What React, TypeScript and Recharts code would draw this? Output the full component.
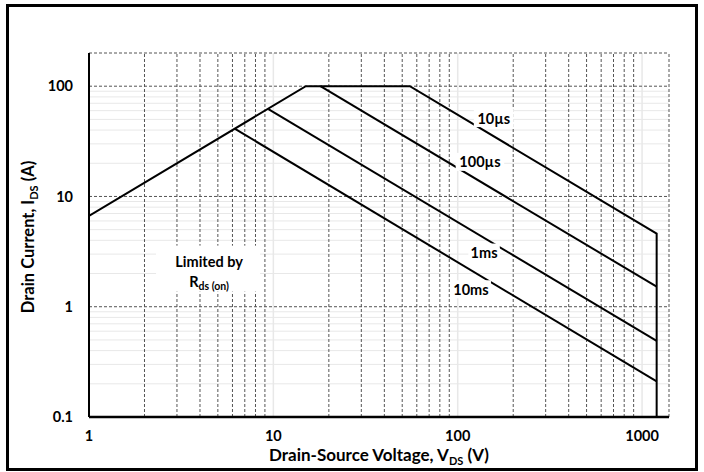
import {
  LineChart,
  Line,
  XAxis,
  YAxis,
  ReferenceLine,
  ReferenceDot,
  Label,
} from "recharts";

// safe operating area boundaries (V, A)
const soaV = [1, 15, 55, 1200, 1200];
const soaI = [6.67, 100, 100, 4.6, 0.1];
const us100V = [18, 1200];
const us100I = [100, 1.52];
const ms1V = [9.4, 1200];
const ms1I = [62, 0.49];
const ms10V = [6.2, 1200];
const ms10I = [41, 0.21];

const xTicks = [1, 10, 100, 1000];
const yTicks = [0.1, 1, 10, 100];
const xMinor = [2, 3, 4, 5, 6, 7, 8, 9, 20, 30, 40, 50, 60, 70, 80, 90, 200, 300, 400, 500, 600, 700, 800, 900];
const xMajor = [10, 100, 1000];
const xEdge = [1400];
const yMajor = [1, 10, 100, 200];
const yMinor = [0.2, 0.3, 0.4, 0.5, 0.6, 0.7, 0.8, 0.9, 2, 3, 4, 5, 6, 7, 8, 9, 20, 30, 40, 50, 60, 70, 80, 90];

const tagText = ["10µs", "100µs", "1ms", "10ms"];
const tagV = [157, 132, 139, 118];
const tagI = [51.4, 20.6, 3.1, 1.44];
const rdsV = 4.48;
const rdsI = 2.08;

const toPts = (vs: number[], is: number[]) => vs.map((v, k) => ({ v, i: is[k] }));

const FONT = "Lato, 'Open Sans', sans-serif";
const DASH = "3 2";
const DASH_COLOR = "#555";
const LIGHT = "#e8e8e8";

function Tag(props: any) {
  const { viewBox, value } = props;
  const cx = viewBox.x + viewBox.width / 2;
  const cy = viewBox.y + viewBox.height / 2;
  const w = value.length * 8.5 + 6;
  return (
    <g>
      <rect x={cx - w / 2} y={cy - 9} width={w} height={18} fill="#fff" />
      <text x={cx} y={cy} textAnchor="middle" dominantBaseline="central" fontFamily={FONT} fontWeight={700} fontSize={14.5} fill="#000">
        {value}
      </text>
    </g>
  );
}

function RdsTag(props: any) {
  const { viewBox } = props;
  const cx = viewBox.x + viewBox.width / 2;
  const cy = viewBox.y + viewBox.height / 2;
  return (
    <g fontFamily={FONT} fontWeight={700} fill="#000">
      <rect x={cx - 53} y={cy - 26} width={104} height={46} fill="#fff" />
      <text x={cx} y={cy - 10} textAnchor="middle" dominantBaseline="central" fontSize={14.5}>
        Limited by
      </text>
      <text x={cx} y={cy + 10} textAnchor="middle" dominantBaseline="central" fontSize={14.5}>
        R
        <tspan fontSize={10.5} dy={4}>ds (on)</tspan>
      </text>
    </g>
  );
}

function XTitle(props: any) {
  const { viewBox } = props;
  const cx = viewBox.x + viewBox.width / 2;
  return (
    <text x={cx} y={461} textAnchor="middle" fontFamily={FONT} fontWeight={700} fontSize={17} fill="#000">
      Drain-Source Voltage, V
      <tspan fontSize={11} dy={4}>DS</tspan>
      <tspan dy={-4}> (V)</tspan>
    </text>
  );
}

function YTitle() {
  return (
    <text x={0} y={0} transform="translate(34,237) rotate(-90)" textAnchor="middle" fontFamily={FONT} fontWeight={700} fontSize={16.5} fill="#000">
      Drain Current, I
      <tspan fontSize={11} dy={4}>DS</tspan>
      <tspan dy={-4}> (A)</tspan>
    </text>
  );
}

const lineProps = {
  type: "linear" as const,
  dataKey: "i",
  stroke: "#000",
  strokeWidth: 2,
  dot: false,
  activeDot: false,
  isAnimationActive: false,
};

export default function App() {
  return (
    <div style={{ position: "fixed", left: 0, top: 0, width: 704, height: 472, background: "#fff", overflow: "hidden" }}>
      <div
        style={{
          position: "absolute",
          left: 6,
          top: 4,
          width: 692,
          height: 467,
          border: "3px solid #000",
          boxSizing: "border-box",
        }}
      />
      <div style={{ position: "absolute", left: 0, top: 0 }}>
        <LineChart width={704} height={472} margin={{ top: 53, right: 35, bottom: 25, left: 29 }}>
          <XAxis
            type="number"
            dataKey="v"
            scale="log"
            domain={[1, 1400]}
            ticks={xTicks}
            allowDataOverflow
            height={30}
            tickLine={false}
            tickSize={0}
            tickMargin={14}
            axisLine={{ stroke: "#000", strokeWidth: 2.5 }}
            tick={{ fill: "#000", fontSize: 14.5, fontWeight: 700, fontFamily: FONT }}
          >
            <Label content={<XTitle />} />
          </XAxis>
          <YAxis
            type="number"
            scale="log"
            domain={[0.1, 200]}
            ticks={yTicks}
            allowDataOverflow
            width={60}
            tickLine={false}
            tickSize={0}
            tickMargin={16}
            axisLine={{ stroke: "#000", strokeWidth: 2 }}
            tick={{ fill: "#000", fontSize: 14.5, fontWeight: 700, fontFamily: FONT }}
          >
            <Label content={<YTitle />} />
          </YAxis>
          {yMinor.map((y) => (
            <ReferenceLine key={"ym" + y} y={y} stroke={LIGHT} strokeWidth={1} />
          ))}
          {xMajor.map((x) => (
            <ReferenceLine key={"xM" + x} x={x} stroke={LIGHT} strokeWidth={1.5} />
          ))}
          {xMinor.map((x) => (
            <ReferenceLine key={"xm" + x} x={x} stroke={DASH_COLOR} strokeDasharray={DASH} strokeWidth={1} />
          ))}
          {xEdge.map((x) => (
            <ReferenceLine key={"xe" + x} x={x} stroke={DASH_COLOR} strokeDasharray={DASH} strokeWidth={1} />
          ))}
          {yMajor.map((y) => (
            <ReferenceLine key={"yM" + y} y={y} stroke={DASH_COLOR} strokeDasharray={DASH} strokeWidth={1} />
          ))}
          {tagText.map((t, k) => (
            <ReferenceDot key={t} x={tagV[k]} y={tagI[k]} r={1} fill="none" stroke="none" label={<Tag value={t} />} />
          ))}
          <ReferenceDot x={rdsV} y={rdsI} r={1} fill="none" stroke="none" label={<RdsTag />} />
          <Line {...lineProps} data={toPts(soaV, soaI)} />
          <Line {...lineProps} data={toPts(us100V, us100I)} />
          <Line {...lineProps} data={toPts(ms1V, ms1I)} />
          <Line {...lineProps} data={toPts(ms10V, ms10I)} />
        </LineChart>
      </div>
    </div>
  );
}
